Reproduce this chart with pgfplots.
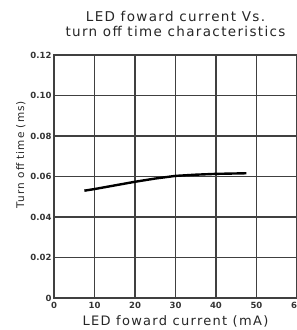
\documentclass[border=0pt]{standalone}
\usepackage{pgfplots}
\pgfplotsset{compat=1.18}
\usepackage{fontspec}
\setmainfont{DejaVu Sans}
\newfontfamily\cadfont[LetterSpace=10]{DejaVu Sans}
\newfontfamily\tickfont{DejaVu Sans}
\begin{document}
\begin{tikzpicture}
\begin{axis}[
  scale only axis,
  width=243pt, height=243pt,
  xmin=0, xmax=60, ymin=0, ymax=0.12,
  xtick={0,10,20,30,40,50,60},
  ytick={0,0.02,0.04,0.06,0.08,0.10,0.12},
  yticklabels={0,0.02,0.04,0.06,0.08,0.10,0.12},
  xticklabels={0,10,20,30,40,50,60},
  grid=major,
  major grid style={line width=1.1pt, color=black!75},
  axis line style={line width=1.1pt, color=black!75},
  tick style={draw=none},
  ticklabel style={font=\tickfont\bfseries\fontsize{8.5}{9}\selectfont, text=black!80},
  xticklabel style={yshift=-1pt},
  yticklabel style={xshift=1pt},
  title={LED foward current Vs.\\turn off time characteristics},
  title style={font=\cadfont\fontsize{13.5}{15}\selectfont, align=center, yshift=9pt, text=black!85},
  xlabel={LED foward current (mA)},
  xlabel style={font=\cadfont\fontsize{13}{15}\selectfont, yshift=0pt, text=black!85},
  ylabel={Turn off time (ms)},
  ylabel style={font=\cadfont\fontsize{10.5}{11}\selectfont, at={(ticklabel cs:0.59)}, yshift=-2pt, text=black!85},
]
\addplot[black, line width=2.4pt] coordinates {
  (7.5,0.0530) (10,0.0538) (15,0.0556) (20,0.0574) (25,0.0590) (30,0.0603) (35,0.0609) (40,0.0613) (47.5,0.0616)
};
\coordinate (SW) at (rel axis cs:0,0);
\coordinate (NE) at (rel axis cs:1,1);
\end{axis}
\pgfresetboundingbox
\path ([xshift=-54pt,yshift=-32pt]SW) rectangle ([yshift=55pt]NE);
\end{tikzpicture}
\end{document}
